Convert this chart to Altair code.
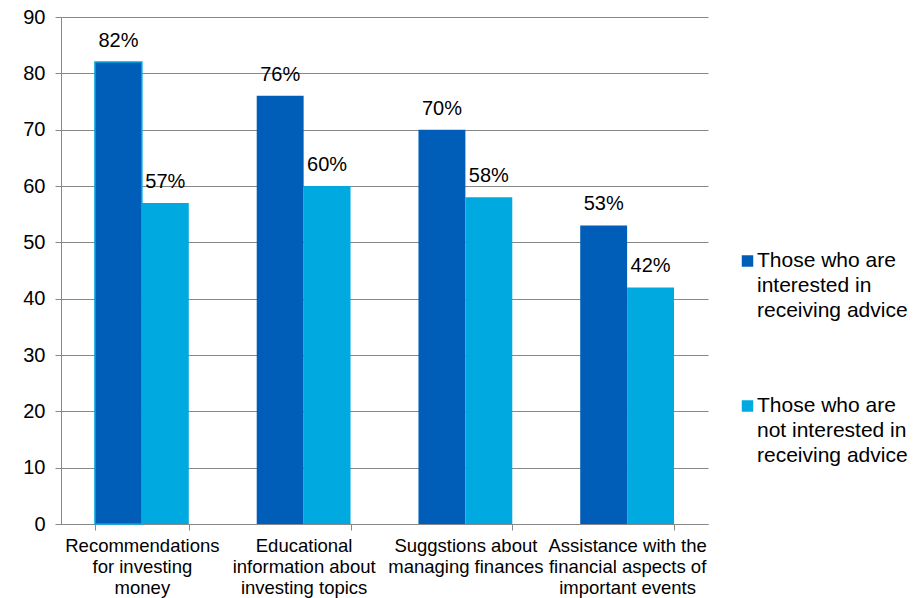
import altair as alt
import pandas as pd

categories = [
    "Recommendations|for investing|money",
    "Educational|information about|investing topics",
    "Suggstions about|managing finances",
    "Assistance with the|financial aspects of|important events",
]
series_names = [
    "Those who are|interested in|receiving advice",
    "Those who are|not interested in|receiving advice",
]
interested = [82, 76, 70, 53]
not_interested = [57, 60, 58, 42]

rows = []
for i, c in enumerate(categories):
    rows.append({"cat": c, "series": series_names[0], "value": interested[i], "order": 0})
    rows.append({"cat": c, "series": series_names[1], "value": not_interested[i], "order": 1})
df = pd.DataFrame(rows)
legend_df = pd.DataFrame({"series": series_names, "order": [0, 1]})

FONT = "Liberation Sans"
dark = "#005EB8"
light = "#00A9E0"

x = alt.X("cat:N", sort=categories, title=None,
          scale=alt.Scale(paddingInner=0.42, paddingOuter=0.21),
          axis=alt.Axis(labelExpr="split(datum.label, '|')", labelAngle=0,
                        labelFontSize=18.5, labelFont=FONT, labelColor="#000000",
                        labelLineHeight=21, labelPadding=6, labelBaseline="top",
                        tickBand="extent", tickColor="#888888", tickSize=6,
                        domainColor="#888888", grid=False))
xo = alt.XOffset("series:N", sort=series_names)
color_scale = alt.Scale(domain=series_names, range=[dark, light])

bars = alt.Chart(df).mark_bar(strokeWidth=1.5).encode(
    x=x,
    xOffset=xo,
    y=alt.Y("value:Q", title=None,
            scale=alt.Scale(domain=[0, 90]),
            axis=alt.Axis(values=list(range(0, 91, 10)), labelFontSize=20, labelFont=FONT,
                          labelColor="#000000", labelPadding=10,
                          gridColor="#888888", gridWidth=1, domainColor="#888888",
                          tickColor="#888888", tickSize=6)),
    color=alt.Color("series:N", sort=series_names, scale=color_scale, legend=None),
    stroke=alt.condition(
        f"datum.cat == '{categories[0]}' && datum.order == 0",
        alt.value(light), alt.value(None)),
)

labels = alt.Chart(df).mark_text(baseline="alphabetic", dy=-15, font=FONT, fontSize=20,
                                 color="#000000").encode(
    x=x,
    xOffset=xo,
    y="value:Q",
    text=alt.Text("label:N"),
).transform_calculate(label="datum.value + '%'")

legend_layers = []
for k, ly in enumerate([244, 389]):
    base = alt.Chart(legend_df).transform_filter(f"datum.order == {k}")
    sq = base.mark_square(size=132, opacity=1).encode(
        x=alt.value(686.5), y=alt.value(ly),
        color=alt.Color("series:N", scale=color_scale, legend=None),
    )
    tx = base.mark_text(align="left", baseline="middle", font=FONT, fontSize=21,
                        lineHeight=25, color="#000000").encode(
        x=alt.value(696), y=alt.value(ly),
        text="lines:N",
    ).transform_calculate(lines="split(datum.series, '|')")
    legend_layers += [sq, tx]

chart = alt.layer(bars, labels, *legend_layers).properties(
    width=647, height=507,
    autosize=alt.AutoSizeParams(type="none"),
    padding={"left": 61, "top": 17, "right": 216, "bottom": 74},
    background="#ffffff",
).configure_view(stroke=None)

chart.save("out.html", embed_options={"renderer": "svg", "actions": False})
